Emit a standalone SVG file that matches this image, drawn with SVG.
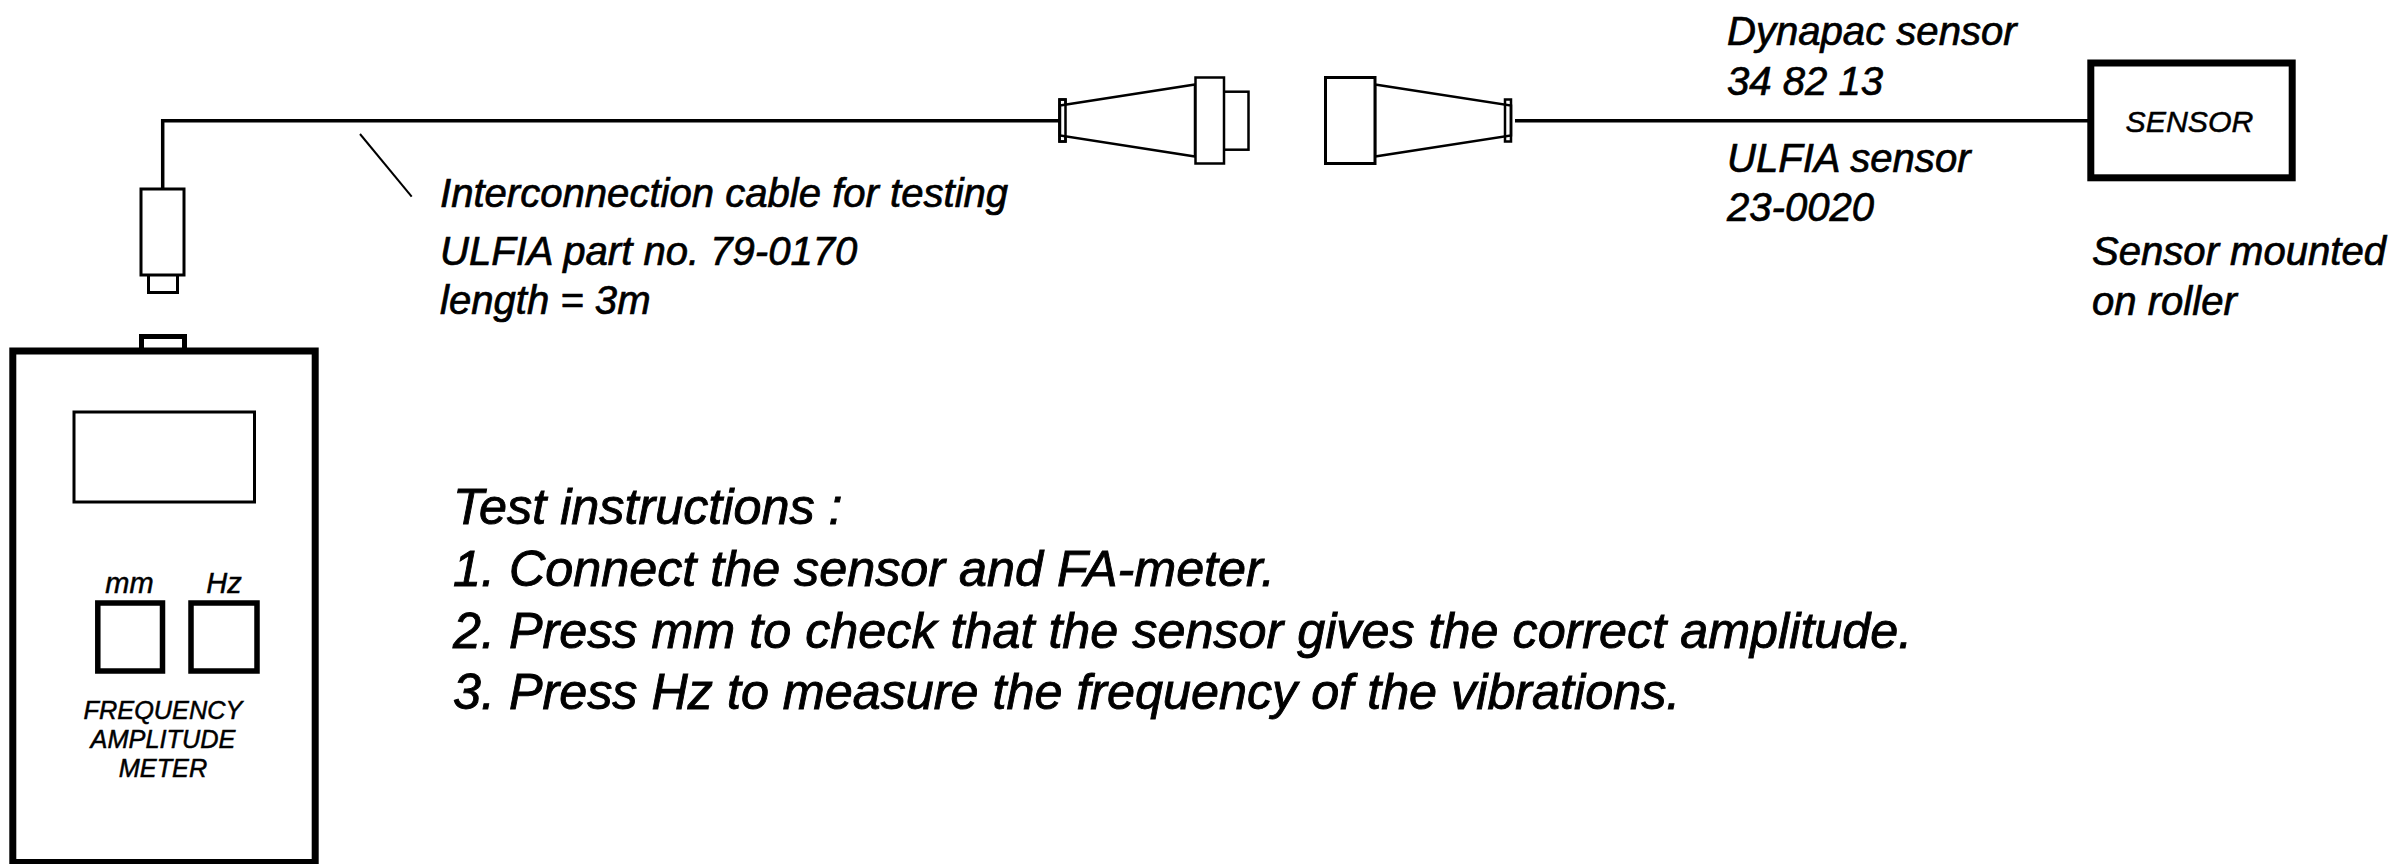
<svg xmlns="http://www.w3.org/2000/svg" width="2393" height="864" viewBox="0 0 2393 864">
<style>
text{font-family:"Liberation Sans",Arial,sans-serif;font-style:italic;fill:#000;stroke:#000;stroke-width:.5px}
.s{fill:#fff;stroke:#000;stroke-linejoin:miter}
.l{fill:none;stroke:#000}
.lab{font-size:40.100px;stroke-width:.7px}
.big{font-size:50.300px;stroke-width:.9px}
.m{font-size:25.300px;text-anchor:middle}
</style>
<rect width="2393" height="864" fill="#fff"/>
<g id="connectors">
<path class="l" stroke-width="3.500" d="M162.700 189V120.700H1062"/>
<path class="l" stroke-width="3.500" d="M1515 120.700H2090"/>
<path class="l" stroke-width="2" d="M360 134L411.700 196.700"/>
</g>
<g id="meter">
<rect class="s" stroke-width="5" x="141.500" y="336.500" width="43" height="14"/>
<rect class="s" stroke-width="7" x="12.800" y="351" width="302.400" height="511.500"/>
<rect class="s" stroke-width="3" x="74" y="412" width="180.500" height="90"/>
<rect class="s" stroke-width="5.500" x="97.800" y="603" width="64.700" height="68"/>
<rect class="s" stroke-width="5.500" x="191" y="603" width="66" height="68"/>
<text x="129.500" y="592.700" font-size="29" text-anchor="middle">mm</text>
<text x="224" y="592.700" font-size="29" text-anchor="middle">Hz</text>
<text class="m" x="163" y="718.700">FREQUENCY</text>
<text class="m" x="163" y="748">AMPLITUDE</text>
<text class="m" x="163" y="776.500">METER</text>
</g>
<g id="meter-plug">
<rect class="s" stroke-width="3" x="148.500" y="270" width="29" height="22.500"/>
<rect class="s" stroke-width="3" x="141" y="189" width="43" height="86"/>
</g>
<g id="connector-left">
<rect class="s" stroke-width="2.500" x="1211" y="91.700" width="37.500" height="58"/>
<rect class="s" stroke-width="2.500" x="1059.500" y="99.500" width="6" height="42"/>
<path class="s" stroke-width="2.500" d="M1060 105.500L1195 84.500V156.500L1060 135.500Z" stroke-linejoin="round"/>
<path class="l" stroke-width="2.500" d="M1059.500 99.500h6v42h-6z"/>
<rect class="s" stroke-width="2.500" x="1195.500" y="77.500" width="28.500" height="86"/>
</g>
<g id="connector-right">
<path class="s" stroke-width="2.500" d="M1375 84.500L1511 105.500V135.500L1375 156.500Z"/>
<path class="l" stroke-width="2.500" d="M1505 99.500h6v42h-6z"/>
<rect class="s" stroke-width="3" x="1325.500" y="77.500" width="49.500" height="86"/>
</g>
<g id="sensor">
<rect class="s" stroke-width="7" x="2090.800" y="63" width="201.400" height="114.800"/>
<text x="2125.500" y="132" font-size="30.300">SENSOR</text>
</g>
<g id="labels">
<text class="lab" x="440" y="206.700">Interconnection cable for testing</text>
<text class="lab" x="440" y="265">ULFIA part no. 79-0170</text>
<text class="lab" x="440" y="314">length = 3m</text>
<text class="lab" x="1727" y="45">Dynapac sensor</text>
<text class="lab" x="1727" y="95">34 82 13</text>
<text class="lab" x="1727" y="171.700">ULFIA sensor</text>
<text class="lab" x="1727" y="220.700">23-0020</text>
<text class="lab" x="2092" y="265">Sensor mounted</text>
<text class="lab" x="2092" y="315">on roller</text>
<text class="big" x="453" y="524">Test instructions :</text>
<text class="big" x="453" y="586">1. Connect the sensor and FA-meter.</text>
<text class="big" x="453" y="647.700">2. Press mm to check that the sensor gives the correct amplitude.</text>
<text class="big" x="453" y="708.500">3. Press Hz to measure the frequency of the vibrations.</text>
</g>
</svg>
